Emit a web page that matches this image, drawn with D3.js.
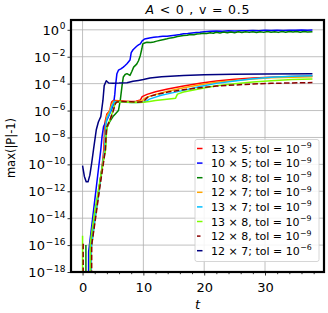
<!DOCTYPE html>
<html><head><meta charset="utf-8">
<script src="https://cdn.jsdelivr.net/npm/d3@7"></script>
<style>body{margin:0;background:#fff}text{font-family:"DejaVu Sans",sans-serif}</style>
</head><body><svg id="c" width="328" height="313"></svg>
<script>
// ---- data: [t, log10(max(|P|-1))]; -40 means value clipped (zero) ----
const s13x5 = [[1.3,-40],[1.35,-16.2],[2.0,-14.0],[2.6,-12.2],[3.2,-10.2],[3.5,-8.9],[3.6,-7.6],[3.7,-6.85],[4.0,-6.25],[4.3,-6.1],[4.5,-5.98],[4.65,-5.6],[4.8,-5.35],[5.1,-5.25],[6,-5.27],[7,-5.3],[8,-5.33],[8.8,-5.3],[9.5,-5.22],[9.8,-4.97],[10.6,-4.8],[12,-4.6],[14,-4.4],[16.6,-4.17],[19.3,-3.97],[22,-3.8],[25,-3.67],[28,-3.58],[31,-3.52],[34.5,-3.47],[37.8,-3.44]];
const s10x5 = [[0.95,-40],[1.0,-16.5],[1.5,-14.6],[2.0,-12.7],[2.6,-10.4],[3.0,-8.9],[3.2,-7.96],[3.45,-7.2],[3.7,-6.96],[4.1,-6.6],[4.5,-6.2],[4.8,-5.9],[5.1,-5.5],[5.3,-4.8],[5.4,-4.25],[5.65,-3.26],[5.9,-3.0],[6.3,-2.9],[6.7,-2.77],[7.0,-2.65],[7.3,-2.52],[7.8,-2.25],[8.0,-1.7],[8.3,-1.48],[8.6,-1.35],[8.9,-1.22],[9.2,-1.12],[9.5,-1.05],[9.8,-0.82],[10.2,-0.68],[10.6,-0.64],[11.0,-0.6],[11.7,-0.55],[12.5,-0.52],[13.2,-0.48],[13.9,-0.47],[14.5,-0.44],[15.2,-0.4],[16,-0.35],[16.6,-0.3],[17.3,-0.27],[18,-0.23],[18.7,-0.2],[19.3,-0.18],[20,-0.14],[21,-0.11],[22,-0.09],[23,-0.1],[24,-0.07],[25,-0.08],[26,-0.06],[27,-0.07],[28,-0.05],[29,-0.06],[30,-0.04],[31,-0.05],[32,-0.03],[33,-0.05],[34,-0.03],[35,-0.04],[36,-0.02],[37,-0.03],[37.8,-0.02]];
const s10x8 = [[0.55,-16.0],[0.6,-40],[1.3,-40],[1.35,-16.3],[2.0,-14.0],[2.7,-11.8],[3.3,-10.0],[3.7,-8.9],[3.9,-7.8],[4.0,-7.3],[4.5,-6.8],[5.0,-6.45],[5.5,-6.2],[5.9,-6.0],[6.2,-5.24],[6.5,-4.13],[6.7,-3.51],[7.0,-3.32],[7.3,-3.26],[7.8,-3.39],[8.1,-3.1],[8.4,-2.77],[8.9,-2.55],[9.2,-2.3],[9.5,-1.9],[9.75,-1.41],[9.9,-1.04],[10.3,-0.96],[10.6,-0.92],[11.2,-0.95],[11.7,-0.9],[12.2,-0.84],[12.8,-0.78],[13.4,-0.72],[13.9,-0.67],[14.5,-0.6],[15,-0.57],[15.6,-0.5],[16.1,-0.46],[16.6,-0.42],[17.2,-0.4],[17.7,-0.35],[18.3,-0.36],[18.8,-0.31],[19.3,-0.3],[19.9,-0.25],[20.4,-0.28],[21,-0.22],[21.5,-0.25],[22,-0.18],[22.6,-0.23],[23.2,-0.17],[23.8,-0.22],[24.4,-0.16],[25,-0.21],[25.6,-0.15],[26.2,-0.2],[26.8,-0.14],[27.4,-0.19],[28,-0.15],[28.6,-0.2],[29.2,-0.14],[29.8,-0.19],[30.4,-0.13],[31,-0.18],[31.6,-0.14],[32.2,-0.19],[32.8,-0.13],[33.4,-0.18],[34,-0.12],[34.6,-0.17],[35.2,-0.12],[35.8,-0.18],[36.4,-0.12],[37,-0.17],[37.8,-0.14]];
const s12x7 = [[1.4,-40],[1.45,-16.2],[2.1,-13.9],[2.7,-12.0],[3.3,-10.1],[3.6,-8.9],[3.75,-7.2],[4.0,-6.4],[4.5,-6.0],[4.8,-5.55],[5.1,-5.3],[6,-5.3],[7,-5.32],[8,-5.34],[9,-5.33],[9.8,-5.28],[10.2,-5.1],[10.6,-5.0],[12,-4.8],[14,-4.56],[16.6,-4.3],[19.3,-4.08],[22,-3.9],[25,-3.76],[28,-3.65],[31,-3.57],[34.5,-3.52],[37.8,-3.49]];
const s13x7 = [[1.35,-40],[1.4,-16.3],[2.0,-14.2],[2.7,-12.0],[3.3,-10.0],[3.65,-8.9],[3.8,-7.3],[4.0,-6.6],[4.5,-6.15],[4.8,-5.7],[5.2,-5.35],[6,-5.36],[7,-5.38],[8,-5.4],[9,-5.4],[10,-5.38],[10.5,-5.3],[11,-5.15],[12,-5.0],[12.8,-4.88],[14,-4.76],[16.6,-4.5],[19.3,-4.22],[22,-3.98],[25,-3.8],[28,-3.64],[31,-3.52],[34.5,-3.45],[37.8,-3.42]];
const s13x8 = [[0,-15.3],[0.05,-40],[1.2,-40],[1.25,-15.9],[2.0,-13.5],[2.8,-11.4],[3.4,-9.8],[3.8,-8.9],[3.95,-7.4],[4.2,-7.0],[4.6,-6.6],[5.0,-6.0],[5.4,-5.45],[5.7,-5.37],[7,-5.37],[8,-5.4],[9,-5.4],[10,-5.38],[11,-5.33],[12,-5.25],[13.5,-5.18],[15.3,-5.08],[15.6,-4.78],[16.6,-4.62],[19.3,-4.38],[22,-4.15],[25,-4.0],[28,-3.87],[31,-3.78],[34.5,-3.7],[37.8,-3.65]];
const s12x8 = [[0.1,-15.9],[0.15,-40],[1.45,-40],[1.5,-16.0],[2.2,-13.8],[2.8,-11.8],[3.4,-10.0],[3.75,-8.9],[3.9,-7.5],[4.0,-7.2],[4.5,-6.7],[5.0,-6.1],[5.4,-5.48],[5.65,-5.36],[6.5,-5.33],[8,-5.35],[9,-5.38],[10,-5.35],[10.4,-5.15],[10.8,-4.98],[12,-4.82],[14,-4.63],[16.6,-4.45],[19.3,-4.3],[22,-4.18],[25,-4.1],[28,-4.03],[31,-3.98],[34.5,-3.95],[37.8,-3.92]];
const s12x7tol6 = [[0,-10.1],[0.3,-10.9],[0.6,-11.3],[0.9,-11.3],[1.2,-10.8],[1.5,-9.9],[1.8,-8.9],[2.25,-7.45],[2.6,-6.85],[3.0,-6.45],[3.35,-5.25],[3.56,-4.15],[3.9,-3.78],[4.3,-3.95],[5,-3.97],[6,-3.96],[7.3,-3.93],[8.3,-3.82],[9.2,-3.76],[10,-3.7],[11.1,-3.58],[13,-3.48],[16.6,-3.4],[20,-3.34],[24.8,-3.31],[30,-3.29],[37.8,-3.27]];

const seriesLabels = [["13 × 5; tol = 10","−9"],["10 × 5; tol = 10","−9"],["10 × 8; tol = 10","−9"],["12 × 7; tol = 10","−9"],["13 × 7; tol = 10","−9"],["13 × 8, tol = 10","−9"],["12 × 8, tol = 10","−9"],["12 × 7; tol = 10","−6"]];
const seriesData = [s13x5, s10x5, s10x8, s12x7, s13x7, s13x8, s12x8, s12x7tol6];
const seriesColors = ["#ff0000","#0000ff","#008000","#ffa500","#00bfff","#7cfc00","#8b0000","#000080"];
const seriesDashed = [false,false,false,false,false,false,true,false];

const xMajor = [0,10,20,30];
const xMinor = [-2,2,4,6,8,12,14,16,18,22,24,26,28,32,34,36,38];
const yTickExp = [0,-2,-4,-6,-8,-10,-12,-14,-16,-18];

// ---- layout ----
const L=71, R=324, T=20, B=272;
const svg = d3.select("#c");
const x = d3.scaleLinear().domain([-1.9,39.7]).range([L,R]);
const y = d3.scaleLog().domain([1e-18, Math.pow(10,0.73)]).range([B,T]);

svg.append("defs").append("clipPath").attr("id","clip")
  .append("rect").attr("x",L).attr("y",T).attr("width",R-L).attr("height",B-T);

// grid
const g = svg.append("g");
g.selectAll(".gx").data(xMajor).enter().append("line")
  .attr("x1",d=>x(d)).attr("x2",d=>x(d)).attr("y1",T).attr("y2",B)
  .attr("stroke","#b0b0b0").attr("stroke-width",0.8);
g.selectAll(".gy").data(yTickExp).enter().append("line")
  .attr("y1",d=>y(Math.pow(10,d))).attr("y2",d=>y(Math.pow(10,d))).attr("x1",L).attr("x2",R)
  .attr("stroke","#b0b0b0").attr("stroke-width",0.8);

// lines
const line = d3.line().x(d=>x(d[0])).y(d=>y(Math.pow(10,d[1])));
const lg = svg.append("g").attr("clip-path","url(#clip)");
seriesData.forEach((s,i)=>{
  lg.append("path").datum(s).attr("d",line).attr("fill","none")
    .attr("stroke",seriesColors[i]).attr("stroke-width",1.5)
    .attr("stroke-linejoin","round")
    .attr("stroke-dasharray",seriesDashed[i]?"5.5,2.4":null);
});

// axes
const xAxis = svg.append("g").attr("transform",`translate(0,${B})`)
  .call(d3.axisBottom(x).tickValues(xMajor).tickSize(3.5).tickFormat(d3.format("d")));
const xAxisMinor = svg.append("g").attr("transform",`translate(0,${B})`)
  .call(d3.axisBottom(x).tickValues(xMinor.filter(v=>x(v)>=L)).tickSize(2.2).tickFormat(""));
[xAxis,xAxisMinor].forEach(a=>{a.select(".domain").remove(); a.selectAll("line").attr("stroke","#000").attr("stroke-width",0.8);});
xAxis.selectAll("text").attr("font-size",13).attr("fill","#000").attr("font-family","DejaVu Sans")
  .attr("y",19.5).attr("dy",null);

const yAxis = svg.append("g").attr("transform",`translate(${L},0)`)
  .call(d3.axisLeft(y).tickValues(yTickExp.map(e=>Math.pow(10,e))).tickSize(3.5).tickFormat(""));
yAxis.select(".domain").remove();
yAxis.selectAll("line").attr("stroke","#000").attr("stroke-width",0.8);
yAxis.selectAll(".tick").each(function(d){
  const e = Math.round(Math.log10(d));
  const t = d3.select(this).append("text").attr("x",-5.5).attr("y",4.5)
    .attr("text-anchor","end").attr("fill","#000").attr("font-size",13);
  t.append("tspan").text("10");
  if(e===0){
    t.append("tspan").attr("dy",-5.5).attr("dx",0.8).attr("font-size",9).text("0");
  } else {
    t.append("tspan").attr("dy",-5.5).attr("dx",0.8).attr("font-size",9).text("−");
    t.append("tspan").attr("dx",0.8).attr("font-size",9).text(String(-e));
  }
});

// frame
svg.append("rect").attr("x",L).attr("y",T).attr("width",R-L).attr("height",B-T)
  .attr("fill","none").attr("stroke","#000").attr("stroke-width",2.2);

// title & labels
const title = svg.append("text").attr("x",(L+R)/2).attr("y",14).attr("text-anchor","middle")
  .attr("font-size",12.5).attr("textLength",104).attr("lengthAdjust","spacing");
title.append("tspan").attr("font-style","italic").text("A");
title.append("tspan").text(" < 0 , v = 0.5");
svg.append("text").attr("x",(L+R)/2).attr("y",309).attr("text-anchor","middle")
  .attr("font-size",13).attr("font-style","italic").text("t");
svg.append("text").attr("transform",`translate(15,${(T+B)/2+2}) rotate(-90)`).attr("text-anchor","middle")
  .attr("font-size",11.5).text("max(|P|-1)");

// legend
const lgX=195, lgY=139.5, lgW=124, lgH=122;
const leg = svg.append("g");
leg.append("rect").attr("x",lgX).attr("y",lgY).attr("width",lgW).attr("height",lgH).attr("rx",2)
  .attr("fill","#fff").attr("fill-opacity",0.85).attr("stroke","#cccccc").attr("stroke-width",0.8);
seriesLabels.forEach((lab,i)=>{
  const cy = 148.5 + i*14.6;
  leg.append("line").attr("x1",197).attr("x2",202.5).attr("y1",cy).attr("y2",cy)
    .attr("stroke",seriesColors[i]).attr("stroke-width",1.5)
    .attr("stroke-dasharray",seriesDashed[i]?"3.5,2.4":null);
  const t = leg.append("text").attr("x",211).attr("y",cy+4).attr("font-size",11).attr("fill","#000");
  t.append("tspan").text(lab[0]);
  t.append("tspan").attr("dy",-4.6).attr("dx",0.5).attr("font-size",7.8).text(lab[1]);
});
</script></body></html>
